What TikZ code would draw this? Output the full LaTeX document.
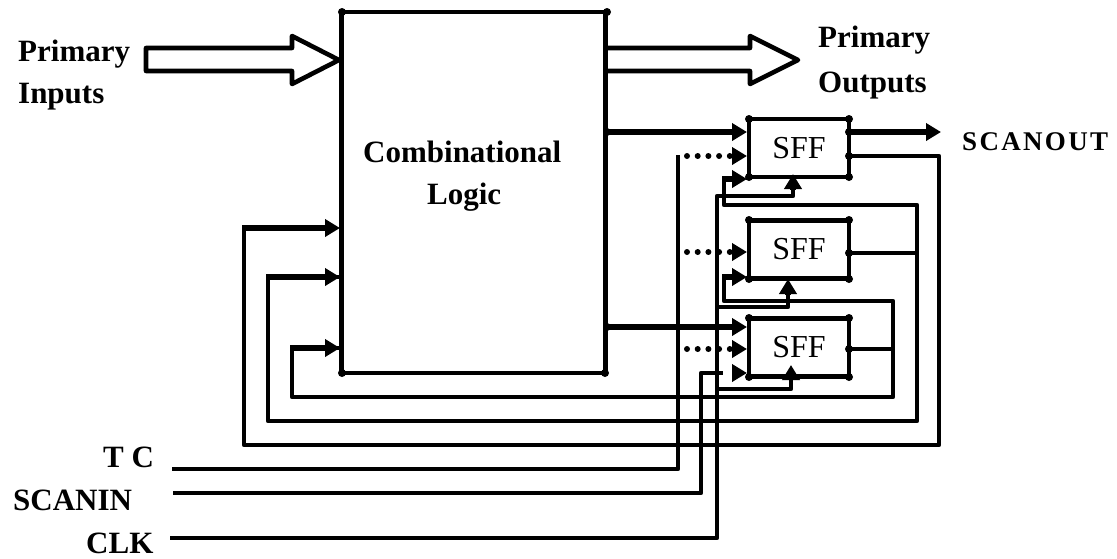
\documentclass[tikz,border=0pt]{standalone}
\usepackage{fontspec}
\setmainfont{Liberation Serif}
\usetikzlibrary{arrows.meta}

\tikzset{
    wire/.style={line width=4.6pt, line join=round},
    thickwire/.style={line width=6.5pt},
    tipped/.style={-{Triangle[length=15pt,width=17pt]}},
    dotwire/.style={line width=6pt, line cap=round, dash pattern=on 0pt off 10.7pt},
    sffbox/.style={draw, line width=4.6pt, minimum width=100pt, minimum height=58pt, inner sep=0pt, outer sep=0pt, font=\fontsize{32}{36}\selectfont},
    biglabel/.style={anchor=base west, inner sep=0pt, font=\fontsize{31}{36}\selectfont\bfseries}
}

\begin{document}
\begin{tikzpicture}[x=1pt, y=-1pt]
    \useasboundingbox (0,0) rectangle (1117,558);

    %ブロック
    \node[draw, line width=4.6pt, minimum width=264pt, minimum height=361pt, inner sep=0pt, outer sep=0pt] (logic) at (473.5,192.5) {};
    \node[sffbox] (sffa) at (799,148) {SFF};
    \node[sffbox] (sffb) at (799,249.5) {SFF};
    \node[sffbox] (sffc) at (799,347.5) {SFF};

    %ラベル
    \node[biglabel] (inlabela) at (18,61) {Primary};
    \node[biglabel] (inlabelb) at (18,103) {Inputs};
    \node[biglabel] (outlabela) at (818,47) {Primary};
    \node[biglabel] (outlabelb) at (818,92) {Outputs};
    \node[biglabel] (logiclabela) at (363,162) {Combinational};
    \node[biglabel] (logiclabelb) at (427,204) {Logic};
    \node[biglabel] (tclabel) at (103,467) {T C};
    \node[biglabel] (scaninlabel) at (13,510) {SCANIN};
    \node[biglabel] (clklabel) at (86,553) {CLK};
    \node[biglabel, font=\fontsize{27}{32}\selectfont\bfseries\addfontfeatures{LetterSpace=8.6}] (scanoutlabel) at (962,150) {SCANOUT};

    %太い矢印
    \draw[wire] (146,48) -- (292,48) -- (292,36) -- (339,60) -- (292,84) -- (292,71) -- (146,71) -- cycle;
    \draw[wire] (607,48) -- (750,48) -- (750,36) -- (798,60) -- (750,84) -- (750,71) -- (607,71);

    %端子
    \coordinate (fa) at (607,132);
    \coordinate (fb) at (607,327);
    \coordinate (da) at (747,132);
    \coordinate (db) at (747,327);
    \coordinate (qa) at (849,132);
    \coordinate (so) at (941,132);
    \coordinate (tc) at (172,469);
    \coordinate (tcup) at (678,155);
    \coordinate (sin) at (173,493);
    \coordinate (sinup) at (701,373);
    \coordinate (singap) at (723,373);
    \coordinate (sintip) at (733,373);
    \coordinate (sinend) at (747,373);
    \coordinate (clk) at (170,538);
    \coordinate (clkup) at (717,196);
    \coordinate (cka) at (793,174);
    \coordinate (ckb) at (788,279);
    \coordinate (ckc) at (791,365);
    \coordinate (ia) at (340,228);
    \coordinate (ib) at (340,277);
    \coordinate (ic) at (340,348);

    %データ線
    \draw[thickwire, tipped] (fa) -- (da);
    \draw[thickwire, tipped] (fb) -- (db);
    \draw[thickwire, tipped] (qa) -- (so);

    %帰還線
    \draw[wire] (849,156) -| (939,445) -| (244,228);
    \draw[wire] (849,253) -- (917,253);
    \draw[wire] (724,179) |- (917,205) |- (268,421) |- (ib);
    \draw[wire] (849,349) -- (893,349);
    \draw[wire] (724,277) |- (893,301) |- (292,397) |- (ic);
    \draw[thickwire, tipped] (242,228) -- (ia);
    \draw[thickwire, tipped] (266,277) -- (ib);
    \draw[thickwire, tipped] (290,348) -- (ic);
    \draw[thickwire, tipped] (722,179) -- (747,179);
    \draw[thickwire, tipped] (722,277) -- (747,277);

    %テスト信号
    \draw[wire] (tc) -| (tcup);
    \draw[wire] (sin) -| (sinup) -- (singap);
    \draw[wire, tipped] (sintip) -- (sinend);
    \draw[wire] (clk) -| (clkup) -| (793,190);
    \draw[wire] (717,307) -| (788,295);
    \draw[wire] (717,389) -| (791,380);
    \draw[thickwire, tipped] (793,190) -- (cka);
    \draw[thickwire, tipped] (788,295) -- (ckb);
    \draw[thickwire, tipped] (791,380) -- (ckc);

    %点線
    \foreach \y in {156,252,349}{
        \draw[dotwire] (687,\y) -- (735,\y);
        \draw[wire, tipped] (733,\y) -- (747,\y);
    }

    %角の点
    \foreach \x/\y in {342/12, 607/12, 342/373, 605/373, 607/132, 607/327,
        749/119, 849/119, 749/177, 849/177, 849/132, 849/156,
        749/220, 849/220, 749/279, 849/279, 849/253,
        749/318, 849/318, 749/377, 849/377, 849/349}{
        \fill (\x,\y) circle (4pt);
    }
\end{tikzpicture}
\end{document}
